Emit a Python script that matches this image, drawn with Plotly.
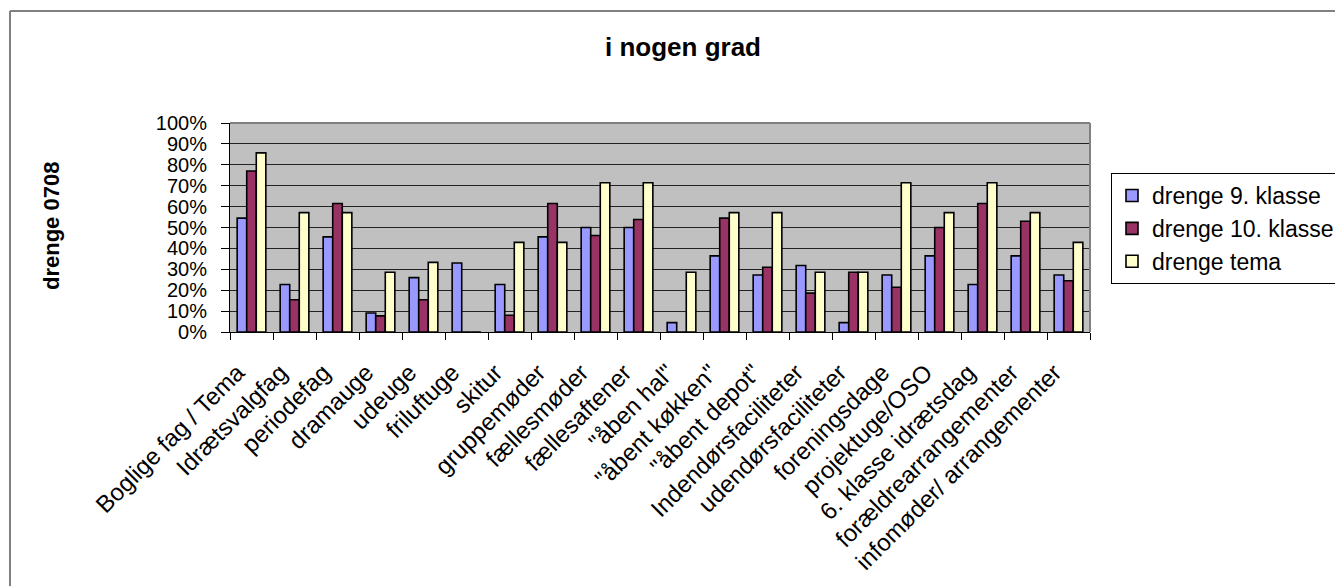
import plotly.graph_objects as go

categories = [
    "Boglige fag / Tema", "Idrætsvalgfag", "periodefag", "dramauge", "udeuge",
    "friluftuge", "skitur", "gruppemøder", "fællesmøder", "fællesaftener",
    "\"åben hal\"", "\"åbent køkken\"", "\"åbent depot\"", "Indendørsfaciliteter",
    "udendørsfaciliteter", "foreningsdage", "projektuge/OSO", "6. klasse idrætsdag",
    "forældrearrangementer", "infomøder/ arrangementer",
]
drenge_9 = [0.545, 0.227, 0.455, 0.091, 0.26, 0.33, 0.227, 0.455, 0.50, 0.50,
            0.045, 0.364, 0.273, 0.318, 0.045, 0.273, 0.364, 0.227, 0.364, 0.273]
drenge_10 = [0.77, 0.154, 0.615, 0.077, 0.154, 0, 0.08, 0.615, 0.462, 0.538,
             0, 0.545, 0.31, 0.186, 0.286, 0.214, 0.50, 0.615, 0.53, 0.245]
drenge_tema = [0.857, 0.571, 0.571, 0.286, 0.333, 0, 0.429, 0.429, 0.714, 0.714,
               0.286, 0.571, 0.571, 0.286, 0.286, 0.714, 0.571, 0.714, 0.571, 0.429]

series = [
    ("drenge 9. klasse", drenge_9, "#9999FF"),
    ("drenge 10. klasse", drenge_10, "#993366"),
    ("drenge tema", drenge_tema, "#FFFFCC"),
]

FONT = "Liberation Sans, Arial, sans-serif"

fig = go.Figure()
for name, vals, col in series:
    fig.add_trace(go.Bar(
        x=categories, y=vals, name=name, legendgroup=name,
        marker=dict(color=col, line=dict(color="black", width=1.6)),
    ))

# page body margin offset
OX, OY = 8, 8
W, H = 1343 - OX, 586 - OY
L, R, T, B = 230 - OX, 1090 - OX, 123 - OY, 332 - OY
pw, ph = R - L, B - T

def px(x):
    return (x - OX - L) / pw

def py(y):
    return 1 - (y - OY - T) / ph

fig.update_layout(
    width=W, height=H,
    margin=dict(l=L, r=W - R, t=T, b=H - B, autoexpand=False),
    paper_bgcolor="white",
    plot_bgcolor="#C0C0C0",
    barmode="group",
    bargap=0.333,
    bargroupgap=0,
    font=dict(family=FONT, color="black", size=21),
    showlegend=True,
    legend=dict(
        x=px(1111), y=py(173), xanchor="left", yanchor="top",
        bgcolor="white", bordercolor="black", borderwidth=1,
        font=dict(size=23, family=FONT, color="black"),
        tracegroupgap=0,
    ),
    xaxis=dict(
        type="category",
        tickangle=-45,
        tickson="boundaries",
        ticks="outside", ticklen=7, tickcolor="black", tickwidth=1,
        showline=True, linecolor="black", linewidth=1,
        showgrid=False,
        tickfont=dict(size=24, family=FONT, color="black"),
        ticklabelstandoff=16,
        ticklabelshift=-14,
        automargin=False,
    ),
    yaxis=dict(
        range=[0, 1], dtick=0.1, tick0=0,
        tickformat=".0%",
        ticks="outside", ticklen=8, tickcolor="black", tickwidth=1,
        showline=True, linecolor="black", linewidth=1,
        showgrid=True, gridcolor="#222222", gridwidth=1,
        zeroline=False,
        tickfont=dict(size=20, family=FONT, color="black"),
        ticklabelstandoff=10,
        automargin=False,
    ),
    shapes=[
        dict(type="line", xref="paper", yref="paper", x0=0, x1=1, y0=1, y1=1,
             line=dict(color="#808080", width=2), layer="above"),
        dict(type="line", xref="paper", yref="paper", x0=1, x1=1, y0=0, y1=1,
             line=dict(color="#808080", width=2), layer="above"),
        dict(type="line", xref="paper", yref="paper", x0=px(10), x1=px(10),
             y0=py(11), y1=py(600), line=dict(color="#808080", width=2)),
        dict(type="line", xref="paper", yref="paper", x0=px(10), x1=px(1360),
             y0=py(11), y1=py(11), line=dict(color="#808080", width=2)),
    ],
    annotations=[
        dict(text="<b>i nogen grad</b>", xref="paper", yref="paper",
             x=px(683), y=py(47), xanchor="center", yanchor="middle",
             showarrow=False, font=dict(size=26, family=FONT, color="black")),
        dict(text="<b>drenge 0708</b>", xref="paper", yref="paper",
             x=px(51), y=py(226), xanchor="center", yanchor="middle",
             textangle=-90, showarrow=False,
             font=dict(size=22, family=FONT, color="black")),
    ],
)

fig.write_html("out.html")
